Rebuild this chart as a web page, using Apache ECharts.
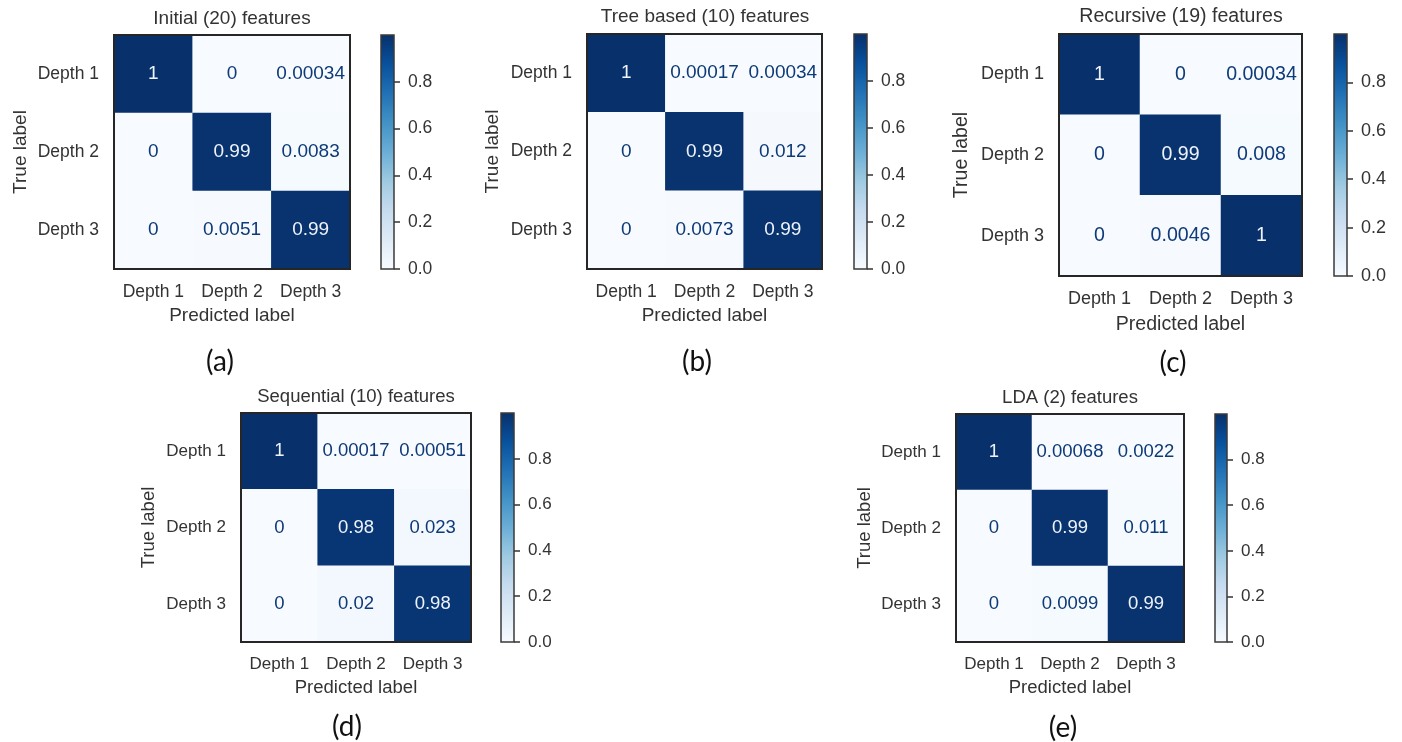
<!DOCTYPE html>
<html><head><meta charset="utf-8">
<script src="https://cdn.jsdelivr.net/npm/echarts@6/dist/echarts.min.js"></script>
<style>html,body{margin:0;padding:0;background:#fff}#c{width:1402px;height:742px}</style>
</head><body><div id="c"></div>
<script>
// ---- data ----
const classes = ['Depth 1', 'Depth 2', 'Depth 3'];
const initialVals    = [[1, 0, 0.00034], [0, 0.99, 0.0083], [0, 0.0051, 0.99]];
const treeVals       = [[1, 0.00017, 0.00034], [0, 0.99, 0.012], [0, 0.0073, 0.99]];
const recursiveVals  = [[1, 0, 0.00034], [0, 0.99, 0.008], [0, 0.0046, 1]];
const sequentialVals = [[1, 0.00017, 0.00051], [0, 0.98, 0.023], [0, 0.02, 0.98]];
const ldaVals        = [[1, 0.00068, 0.0022], [0, 0.99, 0.011], [0, 0.0099, 0.99]];
const panelTitles = ['Initial (20) features', 'Tree based (10) features', 'Recursive (19) features', 'Sequential (10) features', 'LDA (2) features'];
const panelCaptions = ['(a)', '(b)', '(c)', '(d)', '(e)'];
const colorbarTicks = [0, 0.2, 0.4, 0.6, 0.8];
const xAxisName = 'Predicted label';
const yAxisName = 'True label';
const matrices = [initialVals, treeVals, recursiveVals, sequentialVals, ldaVals];

// ---- layout / style ----
const layout = [
  {l:114, t:35, w:236, h:234, cb:381, cbw:13, tx:232, ty:19, cx:220, cy:362, s:1.0,  yg:84},
  {l:587, t:34, w:235, h:235, cb:854, cbw:13, tx:705, ty:17, cx:697, cy:362, s:1.0,  yg:85},
  {l:1059,t:34, w:243, h:242, cb:1334,cbw:13, tx:1181,ty:17, cx:1173,cy:363, s:1.03, yg:87},
  {l:241, t:413,w:230, h:229, cb:501, cbw:13, tx:356, ty:397,cx:347, cy:727, s:0.975,yg:83},
  {l:956, t:414,w:228, h:228, cb:1215,cbw:12, tx:1070,ty:398,cx:1063,cy:728, s:0.975,yg:82}
];
const blues = ['#f7fbff','#deebf7','#c6dbef','#9ecae1','#6baed6','#4292c6','#2171b5','#08519c','#08306b'];
const FONT = '"Liberation Sans", Arial, sans-serif';
const TXT = '#333333';
const fmt = v => String(Number(Number(v).toPrecision(2)));

const chart = echarts.init(document.getElementById('c'));
const grid = [], xAxis = [], yAxis = [], series = [], visualMap = [], graphic = [];

matrices.forEach((m, i) => {
  const L = layout[i], s = L.s;
  const flat = m.flat();
  const vmax = Math.max(...flat), vmin = Math.min(...flat);
  const thresh = (vmax + vmin) / 2;
  // matrix grid
  grid.push({left:L.l, top:L.t, width:L.w, height:L.h, show:true, borderColor:'#262626', borderWidth:2, backgroundColor:'transparent', z:10});
  xAxis.push({type:'category', gridIndex:2*i, data:classes, position:'bottom',
    axisLine:{show:false}, axisTick:{show:false}, splitLine:{show:false},
    axisLabel:{color:TXT, fontSize:17.5*s, fontFamily:FONT, margin:14, interval:0},
    name:xAxisName, nameLocation:'middle', nameGap:37*s,
    nameTextStyle:{color:TXT, fontSize:19*s, fontFamily:FONT}});
  yAxis.push({type:'category', gridIndex:2*i, data:classes, inverse:true,
    axisLine:{show:false}, axisTick:{show:false}, splitLine:{show:false},
    axisLabel:{color:TXT, fontSize:17.5*s, fontFamily:FONT, margin:15, interval:0},
    name:yAxisName, nameLocation:'middle', nameGap:L.yg, nameRotate:90,
    nameTextStyle:{color:TXT, fontSize:19*s, fontFamily:FONT}});
  const data = [];
  m.forEach((row, r) => row.forEach((v, c) => {
    data.push({value:[c, r, v], label:{color: v > thresh ? '#eef3fa' : '#0e3a78'}});
  }));
  series.push({type:'heatmap', xAxisIndex:2*i, yAxisIndex:2*i, data,
    itemStyle:{borderWidth:0},
    label:{show:true, fontSize:19*s, fontFamily:FONT, formatter:p => fmt(p.value[2])},
    emphasis:{disabled:true}});
  visualMap.push({type:'continuous', show:false, seriesIndex:series.length-1, dimension:2,
    min:0, max:vmax, inRange:{color:blues}});
  // colorbar grid
  grid.push({left:L.cb, top:L.t, width:L.cbw, height:L.h, show:true, borderColor:'#3a3a3a', borderWidth:1.5, backgroundColor:'transparent', z:10});
  xAxis.push({type:'category', gridIndex:2*i+1, data:['cb'], show:false});
  yAxis.push({type:'value', gridIndex:2*i+1, position:'right', min:0, max:vmax,
    axisLine:{show:false}, splitLine:{show:false},
    axisTick:{show:true, length:6, lineStyle:{color:'#333', width:1.5}, customValues:colorbarTicks},
    axisLabel:{color:TXT, fontSize:17.5*s, fontFamily:FONT, margin:14, customValues:colorbarTicks, formatter:v => v.toFixed(1)}});
  series.push({type:'bar', xAxisIndex:2*i+1, yAxisIndex:2*i+1, data:[vmax], barWidth:'100%', silent:true,
    itemStyle:{color:new echarts.graphic.LinearGradient(0, 1, 0, 0,
      blues.map((c, k) => ({offset:k/(blues.length-1), color:c})))}});
  // title & caption
  graphic.push({type:'text', x:L.tx, y:L.ty, silent:true,
    style:{text:panelTitles[i], fill:TXT, fontSize:19*s, fontFamily:FONT, textAlign:'center', textVerticalAlign:'middle', align:'center', verticalAlign:'middle'}});
  graphic.push({type:'text', x:L.cx, y:L.cy, silent:true,
    style:{text:panelCaptions[i], fill:'#111', fontSize:28, fontFamily:'Lato, "Open Sans", sans-serif', textAlign:'center', textVerticalAlign:'middle', align:'center', verticalAlign:'middle'}});
});

chart.setOption({animation:false, backgroundColor:'#fff', grid, xAxis, yAxis, series, visualMap, graphic});
</script></body></html>
